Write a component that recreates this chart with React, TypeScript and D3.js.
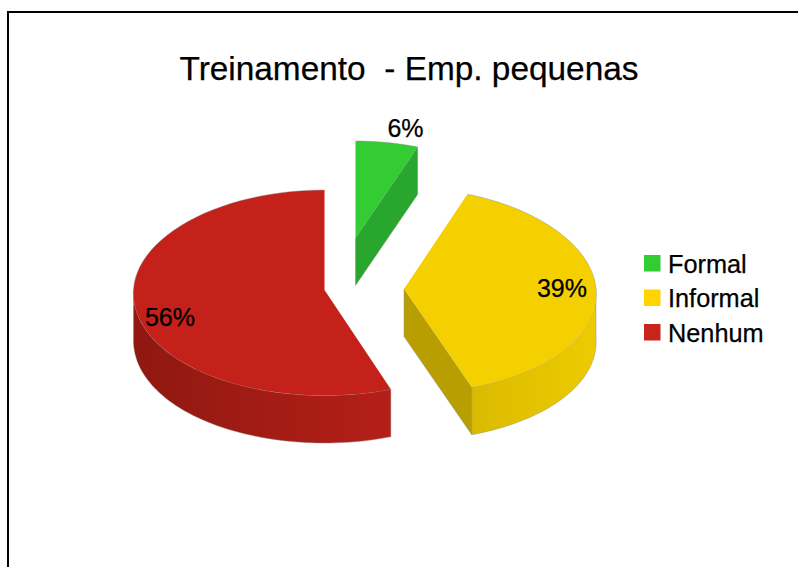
import React from 'react';
import * as d3 from 'd3';

const categories = ['Formal', 'Informal', 'Nenhum'];
const values = [5.6, 38.9, 55.5];
const percentLabels = ['6%', '39%', '56%'];
const title = 'Treinamento  - Emp. pequenas';

const WIDTH = 798;
const HEIGHT = 567;
const DEPTH = 47.5;
const FONT = '"Liberation Sans", Arial, sans-serif';

// one entry per slice: exploded centre, radii and colours
const slices = [
  { cx: 355.5, cy: 238, rx: 191, ryUp: 97, ryDown: 97, k: 0.06, top: '#33cc33', cut: '#28a62d', wall: ['#28a62d', '#28a62d'], labelX: 405.5, labelY: 137 },
  { cx: 404, cy: 289, rx: 192, ryUp: 101, ryDown: 104.5, k: 0.045, top: '#f5d000', cut: '#b89e00', wall: ['#dbbb00', '#eccb00'], labelX: 562, labelY: 297 },
  { cx: 324.5, cy: 290, rx: 191, ryUp: 100, ryDown: 105.5, k: 0.027, top: '#c4211b', cut: '#b01e18', wall: ['#8f1810', '#b51f19'], labelX: 170, labelY: 326 },
];

const legendColors = ['#33cc33', '#ffd400', '#c9231d'];

type Slice = (typeof slices)[number];

const pie = d3.pie<number>().sort(null).startAngle(0).endAngle(2 * Math.PI);
const arcs = pie(values);

const project = (s: Slice, a: number): [number, number] => {
  const c = Math.cos(a);
  return [s.cx + s.rx * Math.sin(a) * (1 - s.k * c), s.cy - (c > 0 ? s.ryUp : s.ryDown) * c];
};

const line = d3.line();

const rimPoints = (s: Slice, from: number, to: number) =>
  d3.range(0, 61).map((i) => project(s, from + ((to - from) * i) / 60));

const down = (p: [number, number]): [number, number] => [p[0], p[1] + DEPTH];

const topPath = (s: Slice, from: number, to: number) =>
  line([[s.cx, s.cy], ...rimPoints(s, from, to)]) + 'Z';

const wallPath = (s: Slice, from: number, to: number) => {
  const rim = rimPoints(s, from, to);
  return line([...rim, ...rim.slice().reverse().map(down)]) + 'Z';
};

const cutPath = (s: Slice, a: number) => {
  const p = project(s, a);
  const apex: [number, number] = [s.cx, s.cy];
  return line([apex, p, down(p), down(apex)]) + 'Z';
};

export default function App() {
  const edge = { stroke: '#8a8a8a', strokeWidth: 0.6, strokeOpacity: 0.7 };
  const textEdge = { stroke: '#000', strokeWidth: 0.25 };
  const [green, yellow, red] = slices;
  const half = Math.PI / 2;

  return (
    <svg
      width={WIDTH}
      height={HEIGHT}
      style={{ position: 'absolute', left: 0, top: 0, background: '#fff' }}
      fontFamily={FONT}
    >
      <defs>
        <linearGradient id="wall-yellow" gradientUnits="userSpaceOnUse" x1={yellow.cx + 68} x2={yellow.cx + yellow.rx} y1={0} y2={0}>
          <stop offset="0" stopColor={yellow.wall[0]} />
          <stop offset="1" stopColor={yellow.wall[1]} />
        </linearGradient>
        <linearGradient id="wall-red" gradientUnits="userSpaceOnUse" x1={red.cx - red.rx} x2={red.cx + 67} y1={0} y2={0}>
          <stop offset="0" stopColor={red.wall[0]} />
          <stop offset="1" stopColor={red.wall[1]} />
        </linearGradient>
      </defs>

      <rect x={8} y={12} width={WIDTH + 20} height={HEIGHT + 20} fill="none" stroke="#000" strokeWidth={2} />

      <text x={409} y={80} textAnchor="middle" fontSize={33.4} fill="#000" style={{ whiteSpace: 'pre' }} {...textEdge}>
        {title}
      </text>

      {/* green: the only visible side is the cut at its end angle */}
      <path d={cutPath(green, arcs[0].endAngle)} fill={green.cut} {...edge} />
      <path d={topPath(green, arcs[0].startAngle, arcs[0].endAngle)} fill={green.top} />
      <path d={line(rimPoints(green, arcs[0].startAngle, arcs[0].endAngle))!} fill="none" {...edge} />

      {/* yellow */}
      <path d={cutPath(yellow, arcs[1].endAngle)} fill={yellow.cut} {...edge} />
      <path d={wallPath(yellow, half, arcs[1].endAngle)} fill="url(#wall-yellow)" {...edge} />
      <path d={topPath(yellow, arcs[1].startAngle, arcs[1].endAngle)} fill={yellow.top} />
      <path d={line(rimPoints(yellow, arcs[1].startAngle, half))!} fill="none" {...edge} />

      {/* red */}
      <path d={wallPath(red, arcs[2].startAngle, 3 * half)} fill="url(#wall-red)" {...edge} />
      <path d={topPath(red, arcs[2].startAngle, arcs[2].endAngle)} fill={red.top} />
      <path d={line(rimPoints(red, 3 * half, arcs[2].endAngle))!} fill="none" {...edge} />

      {percentLabels.map((t, i) => (
        <text key={t} x={slices[i].labelX} y={slices[i].labelY} textAnchor="middle" fontSize={25} fill="#000" {...textEdge}>
          {t}
        </text>
      ))}

      {categories.map((c, i) => (
        <g key={c} transform={`translate(644,${255 + i * 34.5})`}>
          <rect width={16.5} height={16.5} fill={legendColors[i]} />
          <text x={24} y={17.5} fontSize={25.3} fill="#000" {...textEdge}>
            {c}
          </text>
        </g>
      ))}
    </svg>
  );
}
